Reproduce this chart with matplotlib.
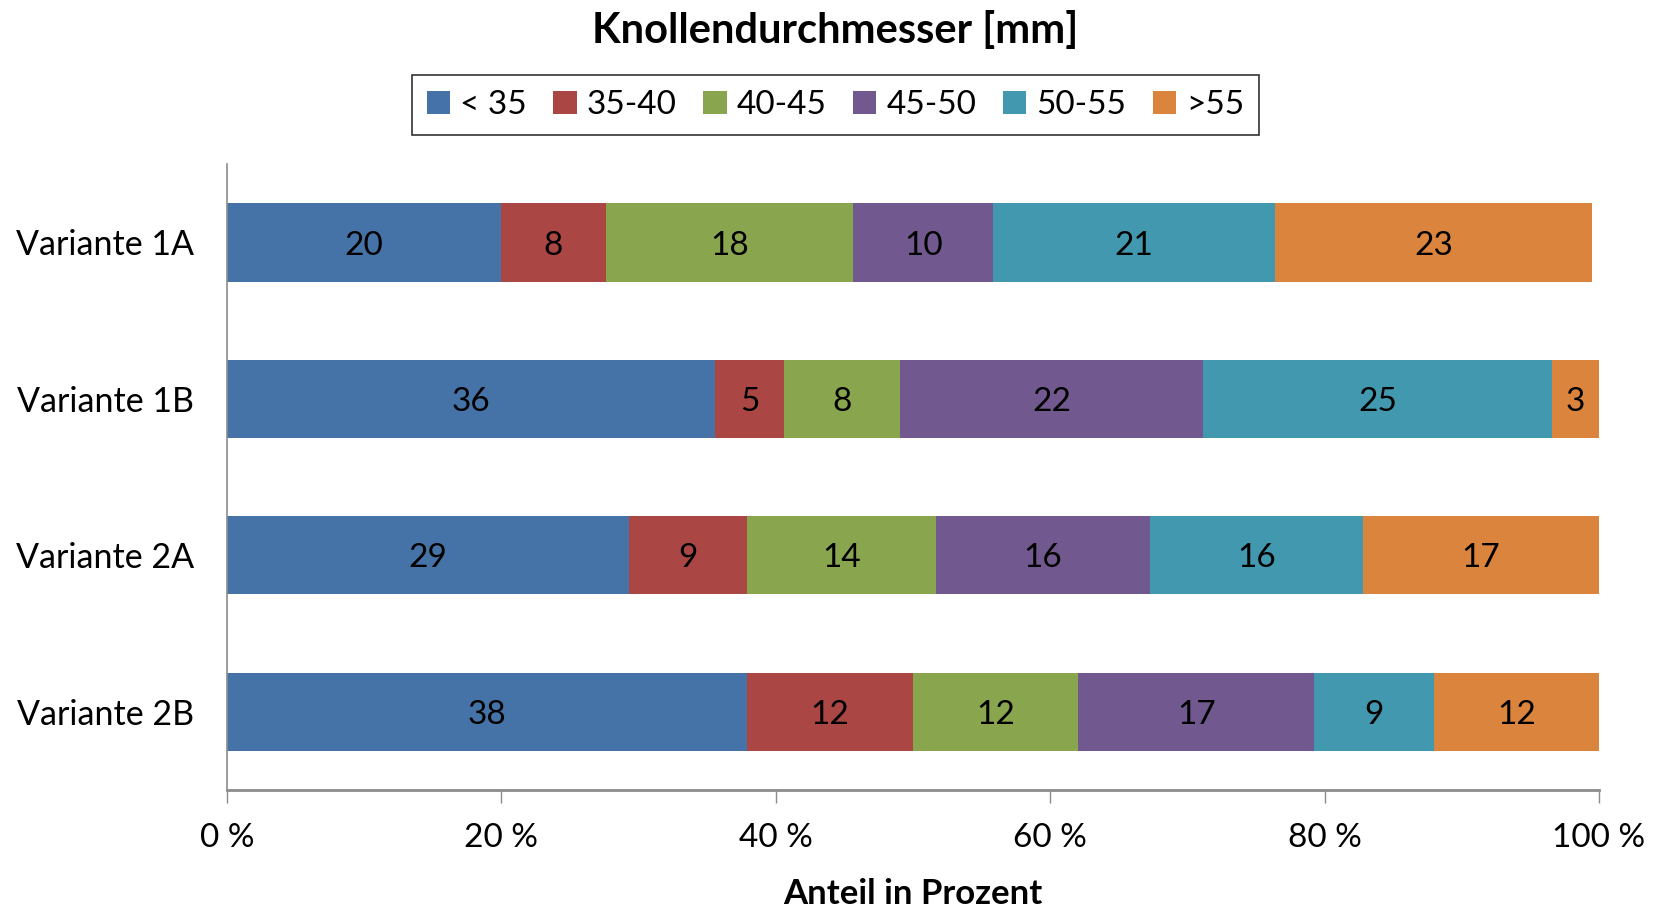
import matplotlib
matplotlib.use("Agg")
import matplotlib.pyplot as plt
from matplotlib.patches import Patch

plt.rcParams['font.family'] = ['Lato', 'DejaVu Sans']

# Data: share of each tuber-diameter class per variant (percent)
variants = ["Variante 1A", "Variante 1B", "Variante 2A", "Variante 2B"]
classes = ["< 35", "35-40", "40-45", "45-50", "50-55", ">55"]
lt35 = [19.95, 35.6, 29.3, 37.9]
c35_40 = [7.7, 5.0, 8.6, 12.1]
c40_45 = [18.0, 8.45, 13.8, 12.05]
c45_50 = [10.2, 22.1, 15.55, 17.2]
c50_55 = [20.55, 25.45, 15.55, 8.7]
gt55 = [23.1, 3.4, 17.2, 12.05]
xticks = [0, 20, 40, 60, 80, 100]
xticklabels = ["0 %", "20 %", "40 %", "60 %", "80 %", "100 %"]

series = [lt35, c35_40, c40_45, c45_50, c50_55, gt55]
colors = ["#4572A7", "#AA4643", "#89A54E", "#71588F", "#4198AF", "#DB843D"]

fig = plt.figure(figsize=(16.63, 9.07), dpi=100)
ax = fig.add_axes([0.1365, 0.129, 0.825, 0.690])

ypos = list(range(len(variants)))
left = [0.0] * len(variants)
for vals, col in zip(series, colors):
    bars = ax.barh(ypos, vals, left=left, height=0.5, color=col,
                   edgecolor="none")
    for b, v in zip(bars, vals):
        ax.text(b.get_x() + b.get_width() / 2,
                b.get_y() + b.get_height() / 2 + 0.02,
                f"{v:.0f}", ha="center", va="center", fontsize=24, color="black")
    left = [l + v for l, v in zip(left, vals)]

ax.set_xlim(0, 100)
ax.set_ylim(len(variants) - 0.5, -0.5)
ax.set_yticks(ypos)
ax.set_yticklabels(variants, fontsize=24.5)
ax.set_xticks(xticks)
ax.set_xticklabels(xticklabels, fontsize=24)
ax.tick_params(axis="y", length=0, pad=24)
ax.tick_params(axis="x", length=9, width=1, color="#8c8c8c", pad=15)
for s in ["top", "right"]:
    ax.spines[s].set_visible(False)
ax.spines["left"].set_color("#8c8c8c")
ax.spines["left"].set_linewidth(1.2)
ax.spines["bottom"].set_color("#8c8c8c")
ax.spines["bottom"].set_linewidth(2.0)
ax.set_xlabel("Anteil in Prozent", fontsize=25, fontweight="bold", labelpad=18)

fig.text(0.502, 0.966, "Knollendurchmesser [mm]", ha="center", va="center",
         fontsize=30, fontweight="bold")

handles = [Patch(facecolor=c, edgecolor="none") for c in colors]
leg = fig.legend(handles, classes, loc="center", bbox_to_anchor=(0.5024, 0.884),
                 ncol=6, fontsize=24, frameon=True, fancybox=False,
                 handlelength=0.7, handleheight=0.7, handletextpad=0.3,
                 columnspacing=0.8, borderpad=0.45)
leg.get_frame().set_edgecolor("black")
leg.get_frame().set_linewidth(1.2)

fig.savefig("out.png", dpi=100, facecolor="white")
